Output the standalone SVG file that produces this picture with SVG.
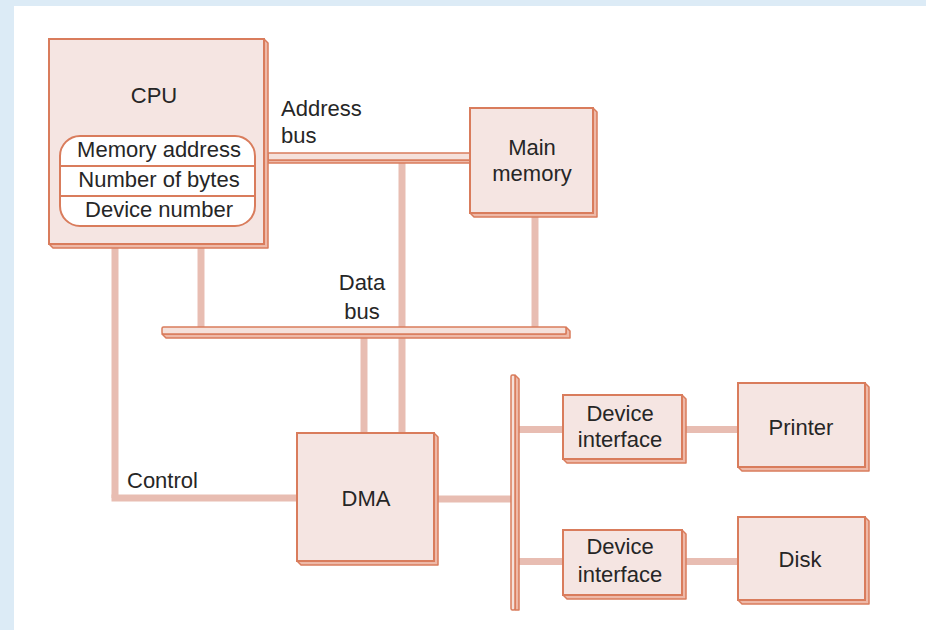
<svg xmlns="http://www.w3.org/2000/svg" width="926" height="630" viewBox="0 0 926 630">
<defs>
<style>
.bg{fill:#dcebf6}
.paper{fill:#ffffff}
.box{fill:#f5e5e2;stroke:#d97c5c;stroke-width:2}
.depth{fill:#eeb9a8;stroke:#d97c5c;stroke-width:1.5;stroke-linejoin:round}
.bar{fill:#f5e1db;stroke:#d97c5c;stroke-width:1.5}
.wire{stroke:#e8bdb2;stroke-width:7;fill:none;stroke-linecap:butt}
.inner{fill:#ffffff;stroke:#d97c5c;stroke-width:2}
.sep{stroke:#d97c5c;stroke-width:2}
text{font-family:"Liberation Sans",Arial,Helvetica,sans-serif;font-size:22px;fill:#262626}
.c{text-anchor:middle}
</style>
</defs>
<rect class="bg" x="0" y="0" width="926" height="630"/>
<rect class="paper" x="14" y="6" width="912" height="624"/>

<g id="connectors">
  <line class="wire" x1="115" y1="248" x2="115" y2="498"/>
  <line class="wire" x1="111.5" y1="498" x2="297" y2="498"/>
  <line class="wire" x1="201" y1="248" x2="201" y2="327"/>
  <line class="wire" x1="535" y1="217" x2="535" y2="327"/>
  <line class="wire" x1="402" y1="163" x2="402" y2="433"/>
  <line class="wire" x1="364" y1="338" x2="364" y2="433"/>
  <line class="wire" x1="437" y1="499" x2="511" y2="499"/>
  <line class="wire" x1="519" y1="429.5" x2="563" y2="429.5"/>
  <line class="wire" x1="685" y1="429.5" x2="738" y2="429.5"/>
  <line class="wire" x1="519" y1="561.5" x2="563" y2="561.5"/>
  <line class="wire" x1="685" y1="561.5" x2="738" y2="561.5"/>
  <g id="address-bus">
    <polygon class="depth" points="470,160 470,163 268,163 268,160"/>
    <rect class="bar" x="268" y="153" width="202" height="7"/>
    <text x="281" y="116">Address</text>
    <text x="281" y="143">bus</text>
  </g>
  <g id="data-bus">
    <polygon class="depth" points="566,327 570,331 570,338 166,338 162,334 566,334"/>
    <rect class="bar" x="162" y="327" width="404" height="7" rx="1.5"/>
    <text class="c" x="362" y="290">Data</text>
    <text class="c" x="362" y="319">bus</text>
  </g>
  <g id="io-bus">
    <polygon class="depth" points="515,375 519,379 519,610 515,610"/>
    <rect class="bar" x="511" y="375" width="4" height="235" rx="1.5"/>
  </g>
  <text x="127" y="488">Control</text>
</g>

<g id="cpu">
  <polygon class="depth" points="264,39 268,43 268,248 53,248 49,244 264,244"/>
  <rect class="box" x="49" y="39" width="215" height="205"/>
  <text class="c" x="154" y="103">CPU</text>
  <rect class="inner" x="60" y="136" width="195" height="90" rx="20"/>
  <line class="sep" x1="60" y1="166" x2="255" y2="166"/>
  <line class="sep" x1="60" y1="196" x2="255" y2="196"/>
  <text class="c" x="159" y="157">Memory address</text>
  <text class="c" x="159" y="187">Number of bytes</text>
  <text class="c" x="159" y="217">Device number</text>
</g>

<g id="main-memory">
  <polygon class="depth" points="593,108 597,112 597,217 474,217 470,213 593,213"/>
  <rect class="box" x="470" y="108" width="123" height="105"/>
  <text class="c" x="532" y="155">Main</text>
  <text class="c" x="532" y="181">memory</text>
</g>

<g id="dma">
  <polygon class="depth" points="434,433 438,437 438,565 301,565 297,561 434,561"/>
  <rect class="box" x="297" y="433" width="137" height="128"/>
  <text class="c" x="366" y="506">DMA</text>
</g>

<g id="device-interface-1">
  <polygon class="depth" points="682,395 686,399 686,463 567,463 563,459 682,459"/>
  <rect class="box" x="563" y="395" width="119" height="64"/>
  <text class="c" x="620" y="421">Device</text>
  <text class="c" x="620" y="447">interface</text>
</g>

<g id="printer">
  <polygon class="depth" points="865,383 869,387 869,471 742,471 738,467 865,467"/>
  <rect class="box" x="738" y="383" width="127" height="84"/>
  <text class="c" x="801" y="435">Printer</text>
</g>

<g id="device-interface-2">
  <polygon class="depth" points="682,530 686,534 686,599 567,599 563,595 682,595"/>
  <rect class="box" x="563" y="530" width="119" height="65"/>
  <text class="c" x="620" y="554">Device</text>
  <text class="c" x="620" y="582">interface</text>
</g>

<g id="disk">
  <polygon class="depth" points="865,517 869,521 869,604 742,604 738,600 865,600"/>
  <rect class="box" x="738" y="517" width="127" height="83"/>
  <text class="c" x="800" y="567">Disk</text>
</g>
</svg>
